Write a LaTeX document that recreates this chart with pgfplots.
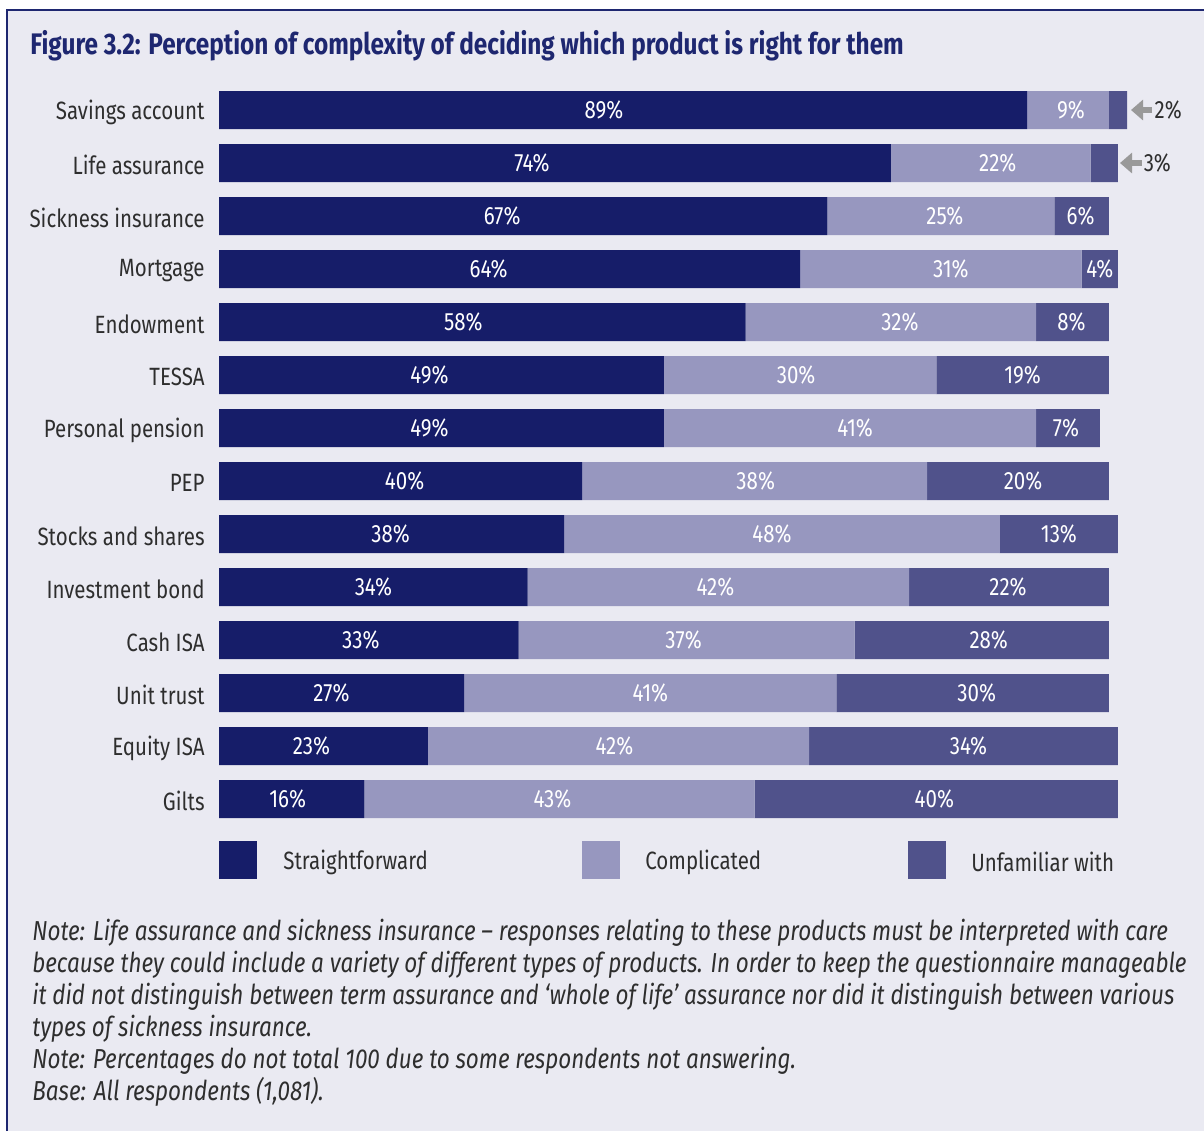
\documentclass[border=0pt]{standalone}
\usepackage{pgfplots}
\pgfplotsset{compat=1.18}
\usepackage{pgfplotstable}
\usepackage{fontspec}
\setmainfont{Fira Sans}[FakeStretch=0.82]
\usetikzlibrary{arrows.meta}
\definecolor{navy}{HTML}{161D69}
\definecolor{compl}{HTML}{9797BF}
\definecolor{unfam}{HTML}{50528B}
\definecolor{bg}{HTML}{EAEAF2}
\definecolor{txt}{HTML}{2E2E2E}
\definecolor{titlec}{HTML}{1E2770}
\definecolor{arr}{HTML}{999999}

% s = straightforward, c = complicated, u = unfamiliar, h = show label inside,
% oa/ob/oc = label offsets in px
\pgfplotstableread{
idx s c u h oa ob oc
0 89 9 2 0 -19 3 0
1 74 22 3 0 -23 7 0
2 67 25 6 1 -21 4 -1
3 64 31 4 1 -21 10 0
4 58 32 8 1 -19 9 -1
5 49 30 19 1 -12 -4 0
6 49 41 7 1 -12 5 -2
7 40 38 20 1 4 1 5
8 38 48 13 1 -1 -10 0
9 34 42 22 1 0 -3 -1
10 33 37 28 1 -8 -3 7
11 27 41 30 1 -10 0 4
12 23 42 34 1 -12 -4 5
13 16 43 40 1 -4 -7 -2
}\data

\newcommand{\lf}{\fontsize{12.5pt}{15pt}\selectfont}
\newcommand{\nf}{\fontsize{13.7pt}{16pt}\selectfont\itshape}

\begin{document}
\begin{tikzpicture}[x=0.5pt,y=-0.5pt]
\useasboundingbox (0,0) rectangle (1204,1131);
\fill[white] (0,0) rectangle (1204,1131);
\fill[bg] (7,10) rectangle (1204,1131);
\draw[titlec, line width=1pt] (7,1131) -- (7,10) -- (1204,10);

\node[anchor=base west, inner sep=0pt, text=titlec, font=\fontsize{14.85pt}{17pt}\selectfont\bfseries] at (30,54) {Figure 3.2: Perception of complexity of deciding which product is right for them};

\begin{axis}[
  at={(109.5pt,-412.75pt)}, anchor=south west,
  scale only axis, width=454pt, height=371pt,
  xmin=0, xmax=100, ymin=-0.5, ymax=13.5, y dir=reverse,
  xbar stacked, bar width=19pt,
  axis x line=none,
  axis y line*=left, y axis line style={draw=none}, ytick style={draw=none},
  ytick={0,...,13},
  yticklabels={Savings account,Life assurance,Sickness insurance,Mortgage,Endowment,TESSA,Personal pension,PEP,Stocks and shares,Investment bond,Cash ISA,Unit trust,Equity ISA,Gilts},
  yticklabel style={font=\lf, text=txt, inner sep=0pt, anchor=east, xshift=-7pt, yshift=-1pt},
  clip=false,
  /pgf/number format/assume math mode=true,
  nodes near coords={\pgfmathprintnumber{\pgfplotspointmeta}\%},
  every node near coord/.append style={anchor=center, text=white, font=\lf, xshift={0.5pt*\off}},
]
\addplot[fill=navy, draw=none, point meta=explicit, visualization depends on={\thisrow{oa} \as \off}] table[x=s, y=idx, meta=s] {\data};
\addplot[fill=compl, draw=none, point meta=explicit, visualization depends on={\thisrow{ob} \as \off}] table[x=c, y=idx, meta=c] {\data};
\addplot[fill=unfam, draw=none, point meta=explicit, visualization depends on={\thisrow{oc} \as \off}, visualization depends on={\thisrow{h} \as \hid}, every node near coord/.append style={text opacity=\hid}] table[x=u, y=idx, meta=u] {\data};

\draw[arr, line width=2.6pt, -{Triangle[width=10pt,length=6pt]}] (axis cs:102.75,0) -- (axis cs:100.44,0);
\node[anchor=west, inner sep=0pt, text=txt, font=\lf] at (axis cs:103.0,0) {2\%};
\draw[arr, line width=2.6pt, -{Triangle[width=10pt,length=6pt]}] (axis cs:101.65,1) -- (axis cs:99.23,1);
\node[anchor=west, inner sep=0pt, text=txt, font=\lf] at (axis cs:101.8,1) {3\%};
\end{axis}

% legend
\fill[navy] (219,841) rectangle (257,879);
\node[anchor=west, inner sep=0pt, text=txt, font=\lf] at (283,862) {Straightforward};
\fill[compl] (582,841) rectangle (620,879);
\node[anchor=west, inner sep=0pt, text=txt, font=\lf] at (645,862) {Complicated};
\fill[unfam] (908,841) rectangle (946,879);
\node[anchor=west, inner sep=0pt, text=txt, font=\lf] at (971,862) {Unfamiliar with};

% notes
\node[anchor=base west, inner sep=0pt, text=txt, font=\nf] at (32,940) {Note: Life assurance and sickness insurance -- responses relating to these products must be interpreted with care};
\node[anchor=base west, inner sep=0pt, text=txt, font=\nf] at (32,972) {because they could include a variety of different types of products. In order to keep the questionnaire manageable};
\node[anchor=base west, inner sep=0pt, text=txt, font=\nf] at (32,1004) {it did not distinguish between term assurance and `whole of life' assurance nor did it distinguish between various};
\node[anchor=base west, inner sep=0pt, text=txt, font=\nf] at (32,1036) {types of sickness insurance.};
\node[anchor=base west, inner sep=0pt, text=txt, font=\nf] at (32,1068) {Note: Percentages do not total 100 due to some respondents not answering.};
\node[anchor=base west, inner sep=0pt, text=txt, font=\nf] at (32,1100) {Base: All respondents (1,081).};
\end{tikzpicture}
\end{document}
